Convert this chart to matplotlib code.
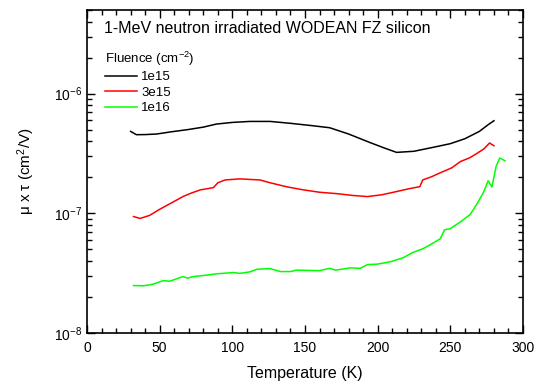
import matplotlib
matplotlib.use("Agg")
import matplotlib.pyplot as plt
from matplotlib.ticker import MultipleLocator, LogLocator, NullFormatter

plt.rcParams["font.family"] = ["Liberation Sans", "DejaVu Sans"]
plt.rcParams["mathtext.fontset"] = "custom"
plt.rcParams["mathtext.rm"] = "Liberation Sans"
plt.rcParams["mathtext.it"] = "Liberation Sans:italic"
plt.rcParams["mathtext.default"] = "regular"

# 1e15
t_1e15 = [30, 34, 40, 48, 58, 69, 80, 89, 100, 112, 126, 140, 155, 167, 180, 195, 205, 213,
          225, 241, 250, 260, 270, 276, 280]
mt_1e15 = [4.84e-7, 4.54e-7, 4.55e-7, 4.6e-7, 4.8e-7, 5.0e-7, 5.25e-7, 5.57e-7, 5.75e-7, 5.86e-7,
           5.86e-7, 5.65e-7, 5.4e-7, 5.19e-7, 4.6e-7, 3.89e-7, 3.5e-7, 3.23e-7,
           3.3e-7, 3.62e-7, 3.82e-7, 4.2e-7, 4.84e-7, 5.5e-7, 5.94e-7]

# 3e15
t_3e15 = [32, 36.5, 43, 50, 58, 66, 72, 78, 87, 90, 95, 105, 119, 126, 138, 149, 160, 172,
          183, 193, 203, 213, 221, 229, 231, 237, 243, 251, 257, 263, 268, 273, 277, 280]
mt_3e15 = [9.4e-8, 9.06e-8, 9.6e-8, 1.08e-7, 1.22e-7, 1.38e-7, 1.48e-7, 1.57e-7, 1.64e-7,
           1.8e-7, 1.9e-7, 1.94e-7, 1.9e-7, 1.80e-7, 1.66e-7, 1.57e-7, 1.5e-7, 1.46e-7,
           1.41e-7, 1.38e-7, 1.43e-7, 1.52e-7, 1.6e-7, 1.67e-7, 1.9e-7, 2.02e-7, 2.18e-7,
           2.40e-7, 2.71e-7, 2.9e-7, 3.15e-7, 3.45e-7, 3.87e-7, 3.67e-7]

# 1e16
t_1e16 = [32, 39, 45.6, 52.5, 57, 66, 69.6, 72, 77.8, 89, 100.7, 105, 112, 117, 126, 133, 140,
          144, 160, 167, 171, 181, 188, 193, 199.6, 208.5, 217.5, 224, 231, 236, 243, 246,
          250, 257, 263.6, 268, 272.6, 276, 278.6, 281.5, 284, 287.6]
mt_1e16 = [2.49e-8, 2.48e-8, 2.56e-8, 2.74e-8, 2.71e-8, 2.96e-8, 2.87e-8, 2.95e-8, 3.0e-8,
           3.12e-8, 3.20e-8, 3.15e-8, 3.24e-8, 3.41e-8, 3.45e-8, 3.26e-8, 3.26e-8,
           3.35e-8, 3.32e-8, 3.47e-8, 3.35e-8, 3.50e-8, 3.47e-8, 3.73e-8, 3.76e-8, 3.93e-8,
           4.25e-8, 4.70e-8, 5.05e-8, 5.45e-8, 6.12e-8, 7.28e-8, 7.45e-8, 8.49e-8, 9.77e-8,
           1.18e-7, 1.48e-7, 1.87e-7, 1.66e-7, 2.47e-7, 2.90e-7, 2.75e-7]

fig = plt.figure(figsize=(5.35, 3.82), dpi=100)
ax = fig.add_axes([0.1626, 0.1283, 0.815, 0.8455])

ax.plot(t_1e15, mt_1e15, color="black", lw=1.1, label="1e15")
ax.plot(t_3e15, mt_3e15, color="red", lw=1.1, label="3e15")
ax.plot(t_1e16, mt_1e16, color="#00ff00", lw=1.1, label="1e16")

ax.set_yscale("log")
ax.set_xlim(0, 300)
ax.set_ylim(1e-8, 5e-6)
ax.xaxis.set_major_locator(MultipleLocator(50))
ax.xaxis.set_minor_locator(MultipleLocator(10))
ax.yaxis.set_major_locator(LogLocator(base=10, numticks=10))
ax.yaxis.set_minor_locator(LogLocator(base=10, subs=range(2, 10), numticks=20))
ax.yaxis.set_minor_formatter(NullFormatter())

ax.tick_params(which="both", direction="in", top=True, right=True, labelsize=10, width=1)
ax.tick_params(which="major", length=6)
ax.tick_params(which="minor", length=3.5)
ax.tick_params(axis="x", pad=6)
for s in ax.spines.values():
    s.set_linewidth(1.2)

ax.set_xlabel("Temperature (K)", fontsize=11.5, labelpad=8)
ax.set_ylabel(r"μ x τ (cm$^2$/V)", fontsize=11, labelpad=12)

ax.text(0.039, 0.965, "1-MeV neutron irradiated WODEAN FZ silicon", transform=ax.transAxes,
        fontsize=11.5, va="top", ha="left")

leg = ax.legend(title=r"Fluence (cm$^{-2}$)", loc="upper left", bbox_to_anchor=(0.041, 0.878),
                frameon=False, fontsize=9.5, title_fontsize=9.5, handlelength=2.4,
                handletextpad=0.35, labelspacing=0.25, borderaxespad=0, borderpad=0)
leg._legend_box.align = "left"

fig.savefig("out.png", dpi=100)
